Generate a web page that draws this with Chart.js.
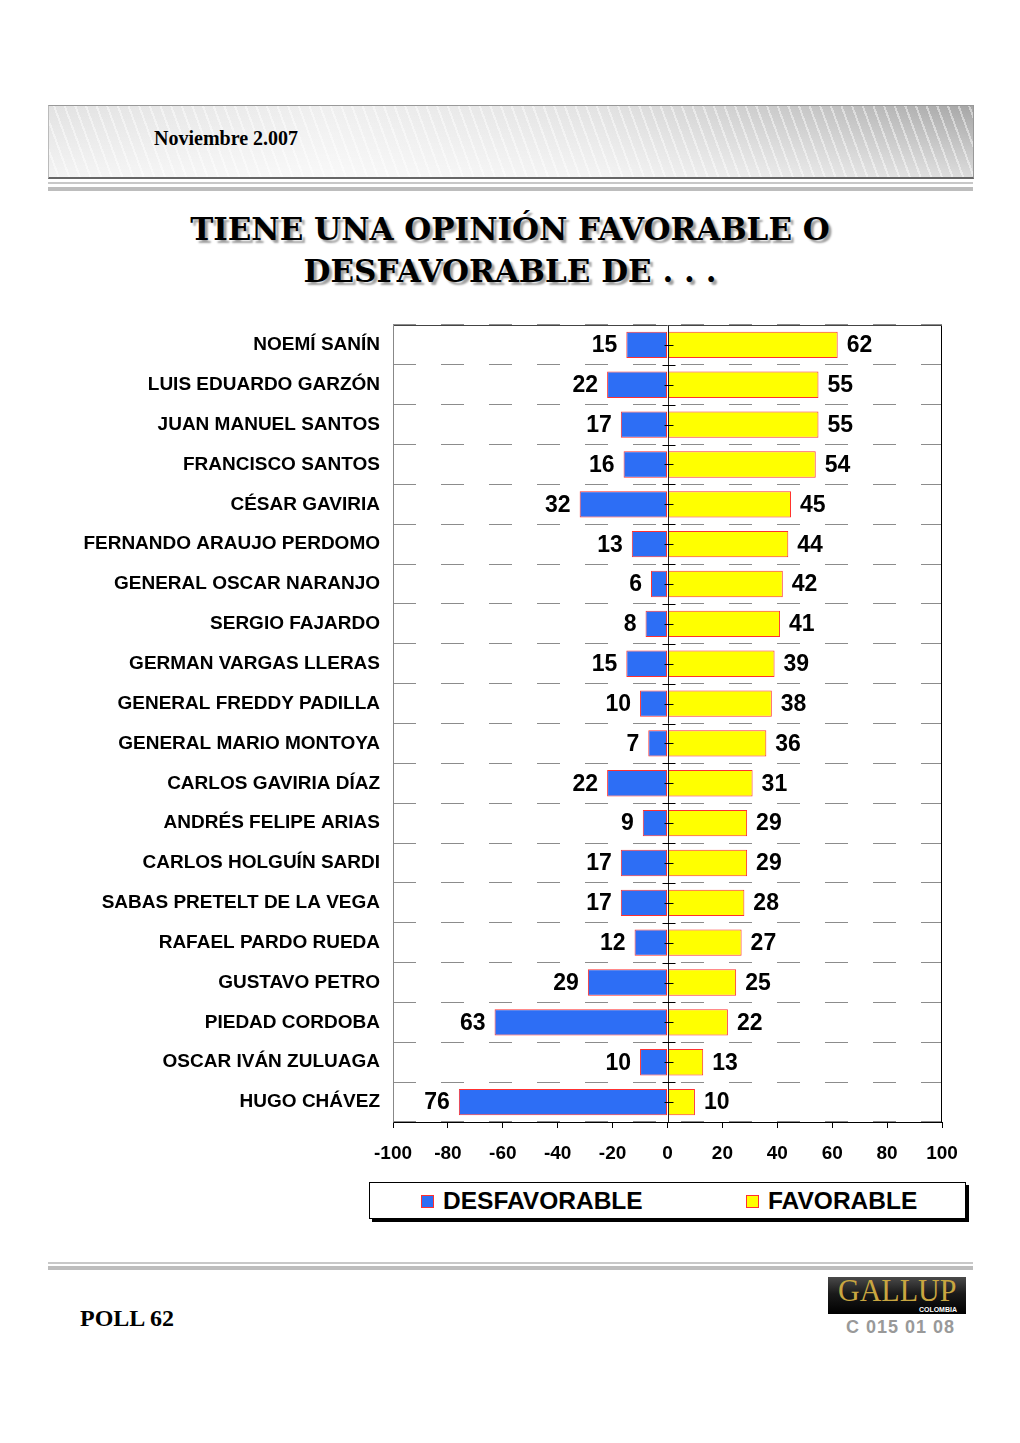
<!DOCTYPE html>
<html>
<head>
<meta charset="utf-8">
<script src="https://cdn.jsdelivr.net/npm/chart.js@4/dist/chart.umd.min.js"></script>
<style>
  html, body { margin: 0; padding: 0; background: #fff; }
  body { width: 1020px; height: 1443px; position: relative; overflow: hidden; font-family: "Liberation Sans", Arial, sans-serif; }
  .band {
    position: absolute; left: 48px; top: 105px; width: 924px; height: 71px;
    border-top: 1px solid #999; border-left: 1px solid #bbb; border-right: 1px solid #999;
    border-bottom: 2px solid #666;
    background:
      repeating-linear-gradient(70deg, rgba(255,255,255,0) 0 8px, rgba(255,255,255,0.45) 8px 10px),
      linear-gradient(to bottom, rgba(255,255,255,0) 0%, rgba(255,255,255,0.6) 100%),
      linear-gradient(to right, #e2e2e2 0%, #efefef 30%, #e2e2e2 60%, #c2c2c2 85%, #a6a6a6 100%);
  }
  .band span {
    position: absolute; left: 105px; top: 21px;
    font-family: "Liberation Serif", "Times New Roman", serif; font-weight: bold; font-size: 20px; color: #000;
  }
  .rule1 { position: absolute; left: 48px; width: 925px; height: 2px; background: #c8c8c8; }
  .rule2 { position: absolute; left: 48px; width: 925px; height: 4px; background: #bdbdbd; }
  .title {
    position: absolute; left: 0; width: 1020px; top: 208px; text-align: center;
    font-family: "DejaVu Serif", serif; font-weight: bold; font-size: 31px; line-height: 42px;
    color: #000; text-shadow: 3px 3px 2px #a0a0a0;
  }
  #wrap { position: absolute; left: 0; top: 300px; width: 1020px; height: 880px; }
  .legend {
    position: absolute; left: 369px; top: 1182px; width: 595px; height: 35px;
    border: 1px solid #000; box-shadow: 3px 3px 0 #000; background: #fff;
    font-weight: bold; font-size: 24.5px; color: #000;
  }
  .legend .item { position: absolute; top: 4px; line-height: 28px; white-space: nowrap; }
  .legend .sw { display: inline-block; width: 11px; height: 11px; border: 1px solid #ff3030; margin-right: 9px; vertical-align: 1px; }
  .poll {
    position: absolute; left: 80px; top: 1305px;
    font-family: "Liberation Serif", "Times New Roman", serif; font-weight: bold; font-size: 24px; color: #000;
  }
  .logo {
    position: absolute; left: 828px; top: 1277px; width: 138px; height: 37px; overflow: hidden;
    background: linear-gradient(to bottom, #4a4a4a 0%, #1a1a1a 45%, #000 100%);
  }
  .logo .g {
    position: absolute; left: 10px; top: -2px; font-family: "Liberation Serif", serif; font-size: 30px; line-height: 30px;
    color: #c9a640; letter-spacing: 0px; transform: scaleY(1.05); transform-origin: top left;
  }
  .logo .c { position: absolute; right: 9px; bottom: 1px; font-size: 7px; color: #fff; font-weight: bold; }
  .code {
    position: absolute; left: 846px; top: 1317px; font-weight: bold; font-size: 18px; color: #999; letter-spacing: 1px;
  }
</style>
</head>
<body>
<div class="band"><span>Noviembre 2.007</span></div>
<div class="rule1" style="top:182px"></div>
<div class="rule2" style="top:187px"></div>
<div class="title">TIENE UNA OPINIÓN FAVORABLE O<br>DESFAVORABLE DE . . .</div>

<div id="wrap"><canvas id="chart"></canvas></div>

<div class="legend">
  <div class="item" style="left:51px"><span class="sw" style="background:#2d6ef5"></span>DESFAVORABLE</div>
  <div class="item" style="left:376px"><span class="sw" style="background:#ffff00"></span>FAVORABLE</div>
</div>

<div class="rule1" style="top:1262px"></div>
<div class="rule2" style="top:1266px"></div>
<div class="poll">POLL 62</div>
<div class="logo"><div class="g">GALLUP</div><div class="c">COLOMBIA</div></div>
<div class="code">C 015 01 08</div>

<script>
  // ===== 数据 =====
  const categories = [
    'NOEMÍ SANÍN', 'LUIS EDUARDO GARZÓN', 'JUAN MANUEL SANTOS', 'FRANCISCO SANTOS',
    'CÉSAR GAVIRIA', 'FERNANDO ARAUJO PERDOMO', 'GENERAL OSCAR NARANJO', 'SERGIO FAJARDO',
    'GERMAN VARGAS LLERAS', 'GENERAL FREDDY PADILLA', 'GENERAL MARIO MONTOYA', 'CARLOS GAVIRIA DÍAZ',
    'ANDRÉS FELIPE ARIAS', 'CARLOS HOLGUÍN SARDI', 'SABAS PRETELT DE LA VEGA', 'RAFAEL PARDO RUEDA',
    'GUSTAVO PETRO', 'PIEDAD CORDOBA', 'OSCAR IVÁN ZULUAGA', 'HUGO CHÁVEZ'
  ];
  const desfavorable = [15, 22, 17, 16, 32, 13, 6, 8, 15, 10, 7, 22, 9, 17, 17, 12, 29, 63, 10, 76];
  const favorable    = [62, 55, 55, 54, 45, 44, 42, 41, 39, 38, 36, 31, 29, 29, 28, 27, 25, 22, 13, 10];
  const xTicks = [-100, -80, -60, -40, -20, 0, 20, 40, 60, 80, 100];

  Chart.defaults.font.family = '"Liberation Sans", Arial, sans-serif';

  // 外框 + 零线 + 刻度
  const framePlugin = {
    id: 'frame',
    afterDatasetsDraw(chart) {
      const { ctx, chartArea: a, scales: { x, y } } = chart;
      const x0 = Math.round(x.getPixelForValue(0)) + 0.5;
      ctx.save();
      ctx.lineWidth = 1;
      // 零线
      ctx.strokeStyle = '#222';
      ctx.beginPath(); ctx.moveTo(x0, a.top); ctx.lineTo(x0, a.bottom); ctx.stroke();
      // 零线上的刻度
      ctx.strokeStyle = '#000';
      for (let i = 0; i < categories.length; i++) {
        const yc = Math.round(y.getPixelForValue(i)) + 0.5;
        ctx.beginPath(); ctx.moveTo(x0 - 4, yc); ctx.lineTo(x0 + 5, yc); ctx.stroke();
        if (i > 0) {
          const yb = Math.round((y.getPixelForValue(i) + y.getPixelForValue(i - 1)) / 2) + 0.5;
          ctx.beginPath(); ctx.moveTo(x0 - 6, yb); ctx.lineTo(x0 + 7, yb); ctx.stroke();
        }
      }
      // 边框
      const L = Math.round(a.left) + 0.5, R = Math.round(a.right) - 0.5;
      const T = Math.round(a.top) + 0.5, B = Math.round(a.bottom) + 0.5;
      ctx.strokeStyle = '#444';
      ctx.beginPath(); ctx.moveTo(L, T); ctx.lineTo(R, T); ctx.stroke();
      ctx.strokeStyle = '#888';
      ctx.beginPath(); ctx.moveTo(L, T); ctx.lineTo(L, B); ctx.stroke();
      ctx.strokeStyle = '#000';
      ctx.beginPath(); ctx.moveTo(R, T); ctx.lineTo(R, B); ctx.stroke();
      ctx.restore();
    }
  };

  // 数值标签
  const valuePlugin = {
    id: 'values',
    afterDatasetsDraw(chart) {
      const { ctx } = chart;
      ctx.save();
      ctx.font = 'bold 23px "Liberation Sans", Arial, sans-serif';
      ctx.fillStyle = '#000';
      ctx.textBaseline = 'middle';
      chart.data.datasets.forEach((ds, di) => {
        chart.getDatasetMeta(di).data.forEach((bar, i) => {
          const v = Math.abs(ds.data[i]);
          if (di === 0) { ctx.textAlign = 'right'; ctx.fillText(v, bar.x - 9, bar.y + 1); }
          else { ctx.textAlign = 'left'; ctx.fillText(v, bar.x + 9, bar.y + 1); }
        });
      });
      ctx.restore();
    }
  };

  new Chart(document.getElementById('chart'), {
    type: 'bar',
    data: {
      labels: categories,
      datasets: [
        {
          label: 'DESFAVORABLE',
          data: desfavorable.map(v => -v),
          backgroundColor: '#2d6ef5',
          borderColor: '#ff3030',
          borderWidth: 1,
          borderSkipped: false,
          barPercentage: 0.66,
          categoryPercentage: 1
        },
        {
          label: 'FAVORABLE',
          data: favorable,
          backgroundColor: '#ffff00',
          borderColor: '#ff3030',
          borderWidth: 1,
          borderSkipped: false,
          barPercentage: 0.66,
          categoryPercentage: 1
        }
      ]
    },
    options: {
      indexAxis: 'y',
      responsive: true,
      maintainAspectRatio: false,
      animation: false,
      layout: { padding: { left: 0, right: 78, top: 25, bottom: 0 } },
      plugins: { legend: { display: false }, tooltip: { enabled: false } },
      scales: {
        x: {
          stacked: true,
          min: xTicks[0],
          max: xTicks[xTicks.length - 1],
          afterBuildTicks(scale) { scale.ticks = xTicks.map(v => ({ value: v })); },
          afterFit(scale) { scale.height = 58; },
          grid: { drawOnChartArea: false, drawTicks: true, tickLength: 6, tickColor: '#000' },
          border: { display: true, color: '#000', width: 1 },
          ticks: { color: '#000', font: { size: 19, weight: 'bold' }, padding: 14, maxRotation: 0 }
        },
        y: {
          stacked: true,
          afterFit(scale) { scale.width = 393; },
          grid: { offset: true, color: '#8c8c8c', lineWidth: 1, drawTicks: false },
          border: { display: false, dash: [23, 25] },
          ticks: { color: '#000', font: { size: 19, weight: 'bold' }, padding: 13, autoSkip: false }
        }
      }
    },
    plugins: [framePlugin, valuePlugin]
  });
</script>
</body>
</html>
